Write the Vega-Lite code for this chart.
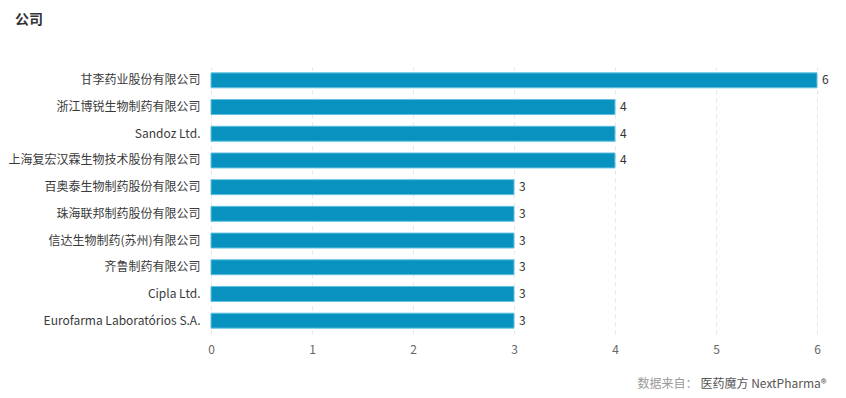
{
  "$schema": "https://vega.github.io/schema/vega-lite/v6.json",
  "width": 606,
  "height": 267,
  "autosize": {"type": "none"},
  "padding": {"left": 211, "top": 67, "right": 29, "bottom": 64},
  "background": "#ffffff",
  "config": {
    "font": "Noto Sans CJK SC",
    "view": {"stroke": null}
  },
  "title": {
    "text": "公司",
    "anchor": "start",
    "frame": "group",
    "orient": "top",
    "fontSize": 14,
    "fontWeight": "bold",
    "color": "#333333",
    "dx": -196,
    "dy": -36
  },
  "data": {
    "values": [
      {"company": "甘李药业股份有限公司", "count": 6},
      {"company": "浙江博锐生物制药有限公司", "count": 4},
      {"company": "Sandoz Ltd.", "count": 4},
      {"company": "上海复宏汉霖生物技术股份有限公司", "count": 4},
      {"company": "百奥泰生物制药股份有限公司", "count": 3},
      {"company": "珠海联邦制药股份有限公司", "count": 3},
      {"company": "信达生物制药(苏州)有限公司", "count": 3},
      {"company": "齐鲁制药有限公司", "count": 3},
      {"company": "Cipla Ltd.", "count": 3},
      {"company": "Eurofarma Laboratórios S.A.", "count": 3}
    ]
  },
  "encoding": {
    "y": {
      "field": "company",
      "type": "nominal",
      "sort": null,
      "scale": {"paddingInner": 0.44, "paddingOuter": 0.22},
      "axis": {
        "title": "医药魔方 NextPharma®",
        "titleX": 489,
        "titleY": 316,
        "titleAngle": 0,
        "titleAlign": "left",
        "titleBaseline": "middle",
        "titleFontSize": 12,
        "titleFontWeight": "normal",
        "titleColor": "#555555",
        "ticks": false,
        "domain": false,
        "labelPadding": 11,
        "labelFontSize": 12,
        "labelColor": "#3a3a3a",
        "labelLimit": 400
      }
    },
    "x": {
      "field": "count",
      "type": "quantitative",
      "scale": {"domain": [0, 6], "nice": false},
      "axis": {
        "title": "数据来自：",
        "titleX": 426,
        "titleY": 49,
        "titleAlign": "left",
        "titleBaseline": "middle",
        "titleFontSize": 12,
        "titleFontWeight": "normal",
        "titleColor": "#999999",
        "values": [0, 1, 2, 3, 4, 5, 6],
        "format": "d",
        "ticks": false,
        "domain": false,
        "labelFlush": false,
        "labelPadding": 10,
        "labelFontSize": 12,
        "labelColor": "#666666",
        "gridColor": "#e6e6e6",
        "gridDash": [4, 4]
      }
    }
  },
  "layer": [
    {
      "mark": {"type": "bar", "fill": "#0892c0", "stroke": "#62c1e3", "strokeWidth": 1}
    },
    {
      "mark": {"type": "text", "align": "left", "dx": 5, "fontSize": 12, "color": "#333333"},
      "encoding": {"text": {"field": "count", "type": "quantitative"}}
    }
  ]
}
